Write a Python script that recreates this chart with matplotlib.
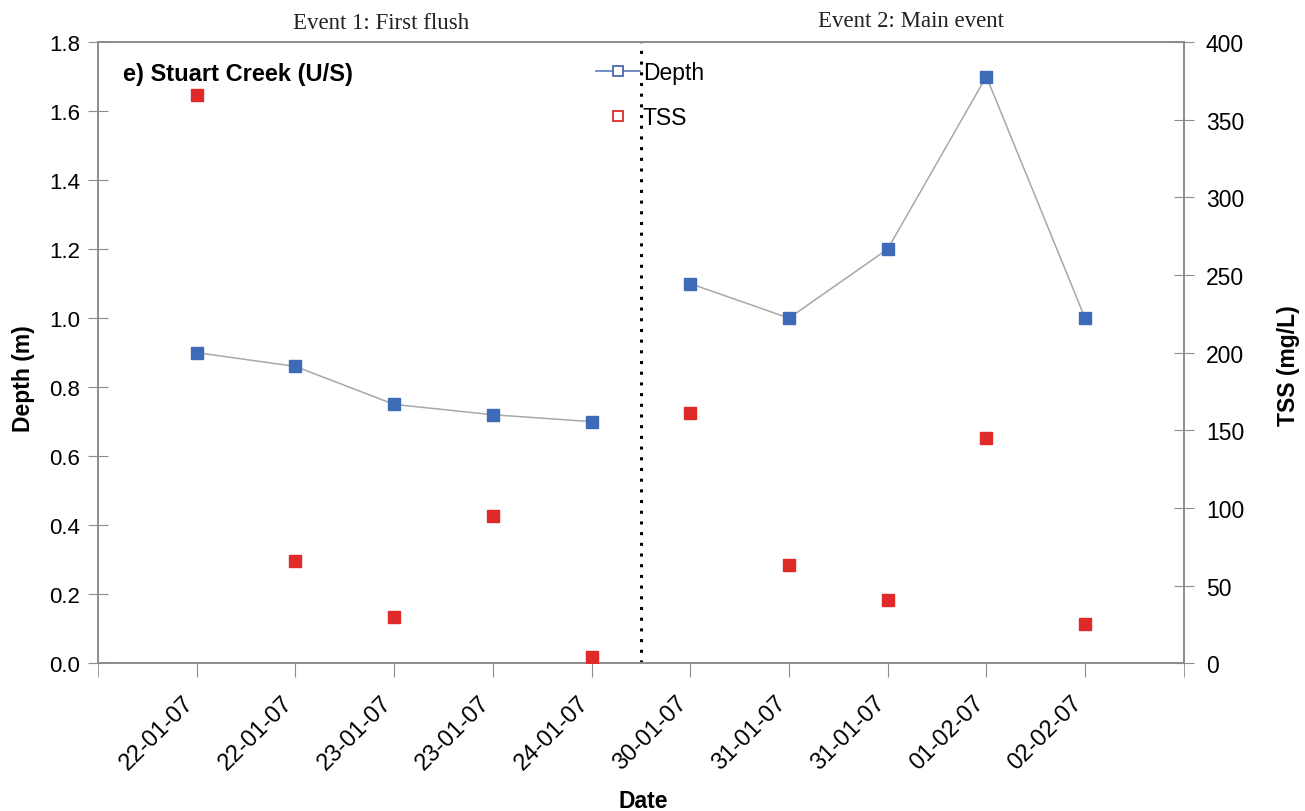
import numpy as np
import matplotlib.pyplot as plt
import matplotlib.transforms as mtransforms
from matplotlib.lines import Line2D

plt.rcParams['font.family'] = ['Liberation Sans', 'DejaVu Sans']

dates = ['22-01-07', '22-01-07', '23-01-07', '23-01-07', '24-01-07',
         '30-01-07', '31-01-07', '31-01-07', '01-02-07', '02-02-07']
depth_ev1 = [0.90, 0.86, 0.75, 0.72, 0.70]
depth_ev2 = [1.10, 1.00, 1.20, 1.70, 1.00]
tss = [366, 66, 30, 95, 4, 161, 63, 41, 145, 25]

blue = '#3d6bb8'
red = '#e02a2a'
axcol = '#8c8c8c'

x = np.arange(len(dates))
x1 = x[:5]
x2 = x[5:]

fig = plt.figure(figsize=(13.05, 8.12), dpi=100)
ax = fig.add_axes([0.0751, 0.182, 0.832, 0.765])
ax2 = ax.twinx()

# depth, one line per event
ax.plot(x1, depth_ev1, color='#a8a8a8', lw=1.1, zorder=2)
ax.plot(x2, depth_ev2, color='#a8a8a8', lw=1.1, zorder=2)
ax.plot(x, depth_ev1 + depth_ev2, ls='none', marker='s', ms=9,
        color=blue, mec=blue, zorder=3)

# TSS on right axis
ax2.plot(x, tss, ls='none', marker='s', ms=9, color=red, mec=red, zorder=3)

ax.axvline(4.5, color='black', ls=(0, (1, 2.5)), lw=2.2, zorder=1)

ax.set_xlim(-1, 10)
ax.set_ylim(0, 1.8)
ax2.set_ylim(0, 400)
ax.set_yticks(np.arange(0, 1.81, 0.2))
ax.set_yticklabels(['%.1f' % v for v in np.arange(0, 1.81, 0.2)])
ax2.set_yticks(np.arange(0, 401, 50))

ax.set_xticks(np.arange(-1, 11), minor=True)
ax.set_xticks(x)
ax.set_xticklabels(dates, rotation=45, ha='right', rotation_mode='anchor')
ax.tick_params(axis='x', which='both', direction='out', length=10,
               color=axcol, labelsize=17, pad=10)
ax.tick_params(axis='y', direction='inout', length=14, color=axcol,
               labelsize=16, pad=6)
ax2.tick_params(axis='y', direction='inout', length=14, color=axcol,
                labelsize=16.5, pad=9)

# nudge date labels left of their ticks
shift = mtransforms.ScaledTranslation(-14 / 100, 0, fig.dpi_scale_trans)
for lab in ax.get_xticklabels():
    lab.set_transform(lab.get_transform() + shift)

for a in (ax, ax2):
    for s in a.spines.values():
        s.set_color(axcol)
        s.set_linewidth(1.2)

ax.set_ylabel('Depth (m)', fontsize=16.5, fontweight='bold')
ax.yaxis.set_label_coords(-0.058, 0.46)
ax2.set_ylabel('TSS (mg/L)', fontsize=16.5, fontweight='bold')
ax2.yaxis.set_label_coords(1.086, 0.48)
ax.set_xlabel('Date', fontsize=16.5, fontweight='bold')
ax.xaxis.set_label_coords(0.502, -0.202)

ax.text(0.023, 0.95, 'e) Stuart Creek (U/S)', transform=ax.transAxes,
        fontsize=17, fontweight='bold', ha='left', va='center')

trans = ax.get_xaxis_transform()
ax.text(1.87, 1.031, 'Event 1: First flush', transform=trans, ha='center',
        va='center', fontsize=16.5, family='Liberation Serif', color='#222222')
ax.text(7.24, 1.034, 'Event 2: Main event', transform=trans, ha='center',
        va='center', fontsize=16.5, family='Liberation Serif', color='#222222')

handles = [
    Line2D([], [], color='#5a7ab8', lw=1.2, marker='s', ms=7,
           mfc='white', mec='#4a6aae', mew=1.3),
    Line2D([], [], ls='none', marker='s', ms=7, mfc='white', mec=red, mew=1.3),
]
ax.legend(handles, ['Depth', 'TSS'], loc='upper left',
          bbox_to_anchor=(0.44, 1.002), frameon=False, fontsize=16.5,
          handlelength=1.9, handletextpad=0.12, labelspacing=0.95)

fig.savefig('out.png', dpi=100)
